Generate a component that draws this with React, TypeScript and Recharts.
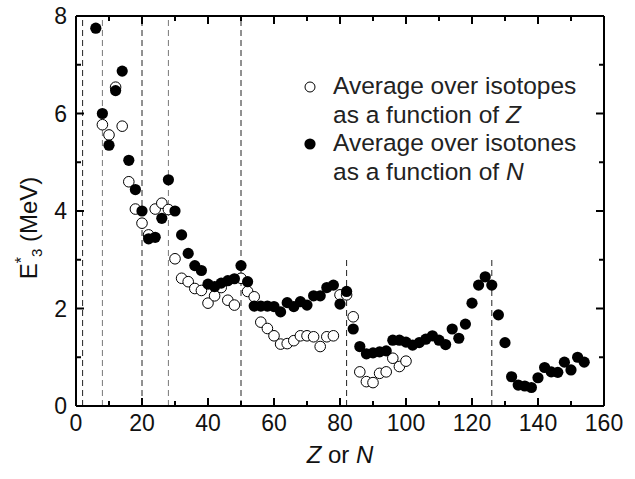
import { ScatterChart, Scatter, XAxis, YAxis, ReferenceLine } from 'recharts'

// average E*(3-) over isotopes, as a function of Z (open circles)
const zValues = [8, 10, 12, 14, 16, 18, 20, 22, 24, 26, 28, 30, 32, 34, 36, 38, 40, 42, 44, 46, 48, 50, 52, 54, 56, 58, 60, 62, 64, 66, 68, 70, 72, 74, 76, 78, 80, 82, 84, 86, 88, 90, 92, 94, 96, 98, 100]
const isotopeE3 = [5.77, 5.56, 6.54, 5.74, 4.6, 4.04, 3.75, 3.51, 4.04, 4.16, 4.03, 3.02, 2.62, 2.55, 2.41, 2.37, 2.11, 2.26, 2.43, 2.17, 2.07, 2.62, 2.35, 2.24, 1.72, 1.59, 1.44, 1.27, 1.28, 1.34, 1.44, 1.44, 1.42, 1.22, 1.42, 1.44, 2.28, 2.28, 1.83, 0.7, 0.5, 0.48, 0.67, 0.7, 0.98, 0.81, 0.92]

// average over isotones, as a function of N (filled circles)
const nValues = [6, 8, 10, 12, 14, 16, 18, 20, 22, 24, 26, 28, 30, 32, 34, 36, 38, 40, 42, 44, 46, 48, 50, 52, 54, 56, 58, 60, 62, 64, 66, 68, 70, 72, 74, 76, 78, 80, 82, 84, 86, 88, 90, 92, 94, 96, 98, 100, 102, 104, 106, 108, 110, 112, 114, 116, 118, 120, 122, 124, 126, 128, 130, 132, 134, 136, 138, 140, 142, 144, 146, 148, 150, 152, 154]
const isotoneE3 = [7.75, 6.0, 5.35, 6.47, 6.87, 5.04, 4.44, 4.0, 3.43, 3.46, 3.85, 4.64, 4.0, 3.51, 3.13, 2.88, 2.78, 2.5, 2.45, 2.52, 2.57, 2.61, 2.88, 2.55, 2.05, 2.05, 2.05, 2.04, 1.93, 2.12, 2.04, 2.14, 2.07, 2.26, 2.26, 2.43, 2.48, 2.09, 2.35, 1.58, 1.22, 1.07, 1.09, 1.11, 1.13, 1.35, 1.35, 1.31, 1.25, 1.3, 1.37, 1.44, 1.35, 1.26, 1.58, 1.39, 1.68, 2.11, 2.48, 2.65, 2.48, 1.87, 1.3, 0.6, 0.43, 0.41, 0.38, 0.58, 0.79, 0.7, 0.69, 0.9, 0.74, 1.0, 0.9]

// magic numbers (dashed lines) and how high each line goes
const magicNumbers = [2, 8, 20, 28, 50, 82, 126]
const magicTops = [8, 8, 8, 8, 8, 3, 3]
const magicGray = [false, true, false, true, false, false, false]

const xTicks = [0, 10, 20, 30, 40, 50, 60, 70, 80, 90, 100, 110, 120, 130, 140, 150, 160]
const yTicks = [0, 1, 2, 3, 4, 5, 6, 7, 8]
const xMax = 160
const yMax = 8

const font = '"Liberation Sans", Arial, Helvetica, sans-serif'
const W = 635
const H = 479
const M = { top: 16, right: 31 }
const X_AXIS_H = 73
const Y_AXIS_W = 76
const PLOT_TOP = M.top
const PLOT_RIGHT = W - M.right
const OFF = 8 // default tickSize (6) + tickMargin (2)

const isotopes = zValues.map((z, i) => ({ x: z, y: isotopeE3[i] }))
const isotones = nValues.map((n, i) => ({ x: n, y: isotoneE3[i] }))

// ticks point inward on all four sides; top/right copies are drawn here too
const BottomTick = ({ x, y, payload }: any) => {
  const major = payload.value % 20 === 0
  const len = major ? 8 : 5
  const ay = y - OFF
  return (
    <g>
      <line x1={x} x2={x} y1={ay} y2={ay - len} stroke="#000" strokeWidth={2} />
      <line x1={x} x2={x} y1={PLOT_TOP} y2={PLOT_TOP + len} stroke="#000" strokeWidth={2} />
      {major && (
        <text x={x} y={ay + 25} textAnchor="middle" fontSize={23} fontFamily={font} fill="#111">
          {payload.value}
        </text>
      )}
    </g>
  )
}

const LeftTick = ({ x, y, payload }: any) => {
  const major = payload.value % 2 === 0
  const len = major ? 8 : 5
  const ax = x + OFF
  return (
    <g>
      <line x1={ax} x2={ax + len} y1={y} y2={y} stroke="#000" strokeWidth={2} />
      <line x1={PLOT_RIGHT} x2={PLOT_RIGHT - len} y1={y} y2={y} stroke="#000" strokeWidth={2} />
      {major && (
        <text x={ax - 9} y={y} dy="0.36em" textAnchor="end" fontSize={23} fontFamily={font} fill="#111">
          {payload.value}
        </text>
      )}
    </g>
  )
}

const OpenDot = ({ cx, cy }: any) => (
  <circle cx={cx} cy={cy} r={5.3} fill="#fff" stroke="#000" strokeWidth={1} />
)
const FilledDot = ({ cx, cy }: any) => <circle cx={cx} cy={cy} r={5.6} fill="#000" />

const legendRows = [
  { filled: false, line1: 'Average over isotopes', line2: 'as a function of ', sym: 'Z' },
  { filled: true, line1: 'Average over isotones', line2: 'as a function of ', sym: 'N' },
]

const LegendBox = () => (
  <div
    style={{
      position: 'absolute',
      left: 303,
      top: 72,
      width: 320,
      fontFamily: font,
      fontSize: 24.5,
      lineHeight: '28.5px',
      color: '#222',
      pointerEvents: 'none',
    }}
  >
    {legendRows.map((r) => (
      <div key={r.sym} style={{ position: 'relative', paddingLeft: 30 }}>
        <svg width={14} height={14} style={{ position: 'absolute', left: 0, top: 8 }}>
          {r.filled ? (
            <circle cx={7} cy={7} r={5.6} fill="#000" />
          ) : (
            <circle cx={7} cy={7} r={5} fill="#fff" stroke="#000" strokeWidth={1} />
          )}
        </svg>
        <div>{r.line1}</div>
        <div>
          {r.line2}
          <i>{r.sym}</i>
        </div>
      </div>
    ))}
  </div>
)

const Titles = () => (
  <svg width={W} height={H} style={{ position: 'absolute', left: 0, top: 0, pointerEvents: 'none' }}>
    <text x={340} y={463} textAnchor="middle" fontSize={24} fontFamily={font} fill="#111">
      <tspan fontStyle="italic">Z</tspan>
      <tspan> or </tspan>
      <tspan fontStyle="italic">N</tspan>
    </text>
    <text transform="translate(37,228) rotate(-90)" textAnchor="middle" fontSize={24} fontFamily={font} fill="#111">
      <tspan>E</tspan>
      <tspan fontSize={16} dy={-10}>*</tspan>
      <tspan fontSize={15} dy={15}>3</tspan>
      <tspan dy={-5}> (MeV)</tspan>
    </text>
  </svg>
)

export default function App() {
  return (
    <div style={{ position: 'absolute', left: 0, top: 0, width: W, height: H, background: '#fff' }}>
      <ScatterChart width={W} height={H} margin={{ top: M.top, right: M.right, bottom: 0, left: 0 }}>
        <XAxis
          type="number"
          dataKey="x"
          domain={[0, xMax]}
          ticks={xTicks}
          interval={0}
          height={X_AXIS_H}
          tickLine={{ stroke: 'none' }}
          tick={BottomTick}
          axisLine={{ stroke: '#000', strokeWidth: 2 }}
        />
        <YAxis
          type="number"
          dataKey="y"
          domain={[0, yMax]}
          ticks={yTicks}
          interval={0}
          width={Y_AXIS_W}
          tickLine={{ stroke: 'none' }}
          tick={LeftTick}
          axisLine={{ stroke: '#000', strokeWidth: 2 }}
        />
        <ReferenceLine x={xMax} stroke="#000" strokeWidth={2} />
        <ReferenceLine y={yMax} stroke="#000" strokeWidth={2} />
        {magicNumbers.map((m, i) => (
          <ReferenceLine
            key={m}
            segment={[
              { x: m, y: 0 },
              { x: m, y: magicTops[i] },
            ]}
            stroke={magicGray[i] ? '#777' : '#222'}
            strokeWidth={1}
            strokeDasharray="6 4"
          />
        ))}
        <Scatter data={isotopes} shape={OpenDot} isAnimationActive={false} />
        <Scatter data={isotones} shape={FilledDot} isAnimationActive={false} />
      </ScatterChart>
      <LegendBox />
      <Titles />
    </div>
  )
}
